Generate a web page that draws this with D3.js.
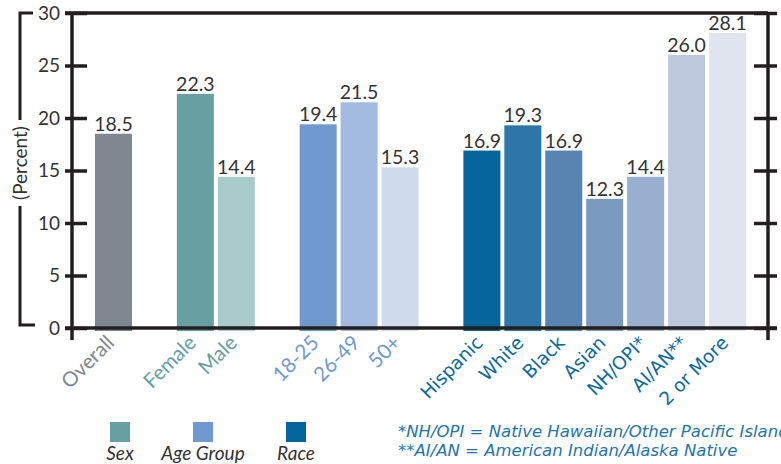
<!DOCTYPE html>
<html>
<head>
<meta charset="utf-8">
<script src="https://cdn.jsdelivr.net/npm/d3@7"></script>
<style>
    body { margin: 0; background: #fff; }
    svg { display: block; }
</style>
</head>
<body>
<svg id="chart" width="781" height="464"></svg>
<script>
// Données du graphique
const categories = ['Overall', 'Female', 'Male', '18-25', '26-49', '50+', 'Hispanic', 'White', 'Black', 'Asian', 'NH/OPI*', 'AI/AN**', '2 or More'];
const values = [18.5, 22.3, 14.4, 19.4, 21.5, 15.3, 16.9, 19.3, 16.9, 12.3, 14.4, 26.0, 28.1];
const groups = ['Overall', 'Sex', 'Sex', 'Age Group', 'Age Group', 'Age Group', 'Race', 'Race', 'Race', 'Race', 'Race', 'Race', 'Race'];
const barColors = ['#7f8890', '#67a0a3', '#a9caca', '#6f99cf', '#a3bbe0', '#d0dbed', '#03659a', '#2c76a8', '#5784b0', '#7b9abf', '#98afd0', '#bcc9dd', '#dfe4ee'];
const yTicks = [0, 5, 10, 15, 20, 25, 30];
const legendLabels = ['Sex', 'Age Group', 'Race'];
const legendColors = ['#67a0a3', '#6f99cf', '#03659a'];
const footnotes = ['*NH/OPI = Native Hawaiian/Other Pacific Islander', '**AI/AN = American Indian/Alaska Native'];

const groupLabelColor = {
    'Overall': '#7f8890',
    'Sex': '#67a0a3',
    'Age Group': '#6f99cf',
    'Race': '#0b6a9c'
};

const svg = d3.select('#chart');
const ink = '#231f20';
const textColor = '#333';
const mainFont = 'Lato, "Open Sans", sans-serif';
const raceFont = '"DejaVu Sans", Verdana, sans-serif';

// Zone du graphique
const plotTop = 13, plotBottom = 328, plotLeft = 72, plotRight = 768;

// Créer les emplacements avec un espace entre chaque groupe
const slots = [];
categories.forEach((c, i) => {
    if (i > 0 && groups[i] !== groups[i - 1]) slots.push('_gap' + i);
    slots.push(c);
});

const xScale = d3.scaleBand()
    .domain(slots)
    .range([95, 746])
    .paddingInner(0.096)
    .paddingOuter(0);

const yScale = d3.scaleLinear()
    .domain([0, 30])
    .range([plotBottom, plotTop]);

// Barres
svg.selectAll('.bar')
    .data(categories)
    .enter().append('rect')
    .attr('class', 'bar')
    .attr('x', d => xScale(d))
    .attr('y', (d, i) => yScale(values[i]))
    .attr('width', xScale.bandwidth())
    .attr('height', (d, i) => yScale(0) - yScale(values[i]) + 3)
    .attr('fill', (d, i) => barColors[i]);

// Valeurs au-dessus des barres
svg.selectAll('.value')
    .data(categories)
    .enter().append('text')
    .attr('class', 'value')
    .attr('x', d => xScale(d) + xScale.bandwidth() / 2)
    .attr('y', (d, i) => yScale(values[i]) - 3)
    .attr('text-anchor', 'middle')
    .style('font-family', mainFont)
    .style('font-size', '19.5px')
    .style('fill', textColor)
    .text((d, i) => values[i].toFixed(1));

// Axe gauche
const yAxis = d3.axisLeft(yScale).tickValues(yTicks).tickSize(7).tickPadding(5);
const gLeft = svg.append('g')
    .attr('transform', `translate(${plotLeft},0)`)
    .call(yAxis);
gLeft.select('.domain').remove();
gLeft.selectAll('.tick line')
    .attr('x1', 15).attr('x2', -7)
    .attr('stroke', ink).attr('stroke-width', 3.5);
gLeft.selectAll('.tick text')
    .attr('x', -12)
    .style('font-family', mainFont)
    .style('font-size', '19px')
    .style('fill', textColor);

// Axe droit
const gRight = svg.append('g')
    .attr('transform', `translate(${plotRight},0)`)
    .call(d3.axisRight(yScale).tickValues(yTicks).tickSize(9).tickFormat(''));
gRight.select('.domain').remove();
gRight.selectAll('.tick line')
    .attr('x1', -14).attr('x2', 9)
    .attr('stroke', ink).attr('stroke-width', 3.5);

// Lignes du cadre
svg.append('line').attr('x1', plotLeft).attr('x2', plotLeft).attr('y1', plotTop).attr('y2', plotBottom + 12)
    .attr('stroke', ink).attr('stroke-width', 3.5);
svg.append('line').attr('x1', plotRight).attr('x2', plotRight).attr('y1', plotTop).attr('y2', plotBottom + 12)
    .attr('stroke', ink).attr('stroke-width', 3.5);
svg.append('line').attr('x1', plotLeft - 7).attr('x2', plotRight).attr('y1', yScale(30)).attr('y2', yScale(30))
    .attr('stroke', ink).attr('stroke-width', 3.5);
svg.append('line').attr('x1', plotLeft - 7).attr('x2', plotRight + 9).attr('y1', yScale(0)).attr('y2', yScale(0))
    .attr('stroke', ink).attr('stroke-width', 3.5);

// Accolade "(Percent)"
const bx = 20;
const bracket = svg.append('g').attr('stroke', ink).attr('stroke-width', 3).attr('fill', 'none');
bracket.append('path').attr('d', `M${bx + 13},${plotTop} H${bx} V${120}`);
bracket.append('path').attr('d', `M${bx},${206} V${plotBottom - 3} H${bx + 15}`);
svg.append('text')
    .attr('transform', `translate(${bx + 7},163) rotate(-90)`)
    .attr('text-anchor', 'middle')
    .style('font-family', mainFont)
    .style('font-size', '19px')
    .style('fill', textColor)
    .text('(Percent)');

// Étiquettes des catégories
svg.selectAll('.cat')
    .data(categories)
    .enter().append('text')
    .attr('class', 'cat')
    .attr('text-anchor', 'end')
    .attr('transform', d => `translate(${xScale(d) + xScale.bandwidth() / 2 + 2},${plotBottom + 16}) rotate(-45)`)
    .style('font-family', (d, i) => groups[i] === 'Race' ? raceFont : mainFont)
    .style('font-size', (d, i) => groups[i] === 'Race' ? '18.5px' : '20.5px')
    .style('fill', (d, i) => groupLabelColor[groups[i]])
    .text(d => d);

// Légende
const legendX = [120, 203, 296];
const legend = svg.selectAll('.legend')
    .data(legendLabels)
    .enter().append('g')
    .attr('class', 'legend')
    .attr('transform', (d, i) => `translate(${legendX[i]},422)`);
legend.append('rect')
    .attr('x', -10).attr('y', 0)
    .attr('width', 20).attr('height', 20)
    .style('fill', (d, i) => legendColors[i]);
legend.append('text')
    .attr('x', 0).attr('y', 38)
    .attr('text-anchor', 'middle')
    .style('font-family', mainFont)
    .style('font-style', 'italic')
    .style('font-size', '19px')
    .style('fill', textColor)
    .text(d => d);

// Notes de bas de page
svg.selectAll('.note')
    .data(footnotes)
    .enter().append('text')
    .attr('class', 'note')
    .attr('x', 398)
    .attr('y', (d, i) => 437 + i * 19)
    .style('font-family', raceFont)
    .style('font-style', 'italic')
    .style('font-size', '16.5px')
    .style('fill', '#1f75a8')
    .text(d => d);
</script>
</body>
</html>
